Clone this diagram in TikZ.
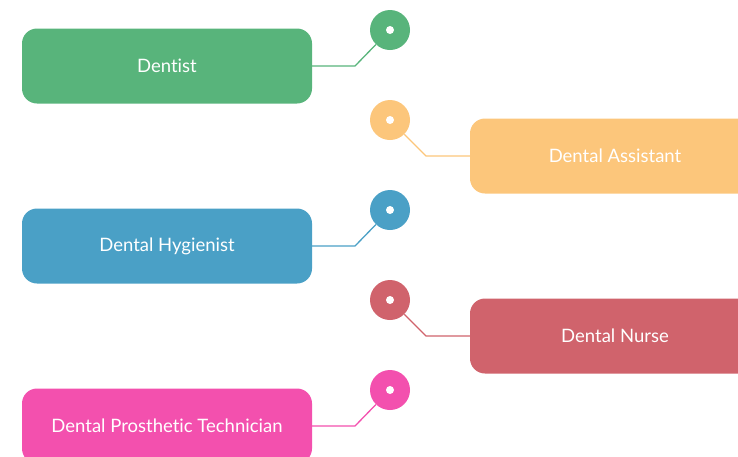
\documentclass[tikz,border=0pt]{standalone}
\usepackage{fontspec}
\setmainfont{Lato}[Ligatures=NoCommon]
\definecolor{dentistgreen}{HTML}{58B47B}
\definecolor{assistantorange}{HTML}{FCC67B}
\definecolor{hygienistblue}{HTML}{4AA0C6}
\definecolor{nursered}{HTML}{D0636C}
\definecolor{technicianpink}{HTML}{F350AE}

\newcommand\leftrole[4]{
        \node [rolebox, fill=#3, name=#1] at (167,#2+36) {#4};
        \node [roledot, fill=#3, name=#1dot] at (390,#2) {};
        \node [dothole] at (#1dot) {};
        \coordinate (#1bend) at (355,#2+36);
        \draw [roleline, #3] (#1.east) -- (#1bend) -- (#1dot);
}
\newcommand\rightrole[4]{
        \node [rolebox, fill=#3, name=#1] at (615,#2+36) {#4};
        \node [roledot, fill=#3, name=#1dot] at (390,#2) {};
        \node [dothole] at (#1dot) {};
        \coordinate (#1bend) at (426,#2+36);
        \draw [roleline, #3] (#1dot) -- (#1bend) -- (#1.west);
}

\begin{document}
\begin{tikzpicture}[x=1pt, y=-1pt,
        rolebox/.style={rounded corners=15pt, minimum width=290pt, minimum height=75pt,
          inner sep=0pt, text=white, font=\fontsize{18.5}{22}\selectfont},
        roledot/.style={circle, minimum size=40pt, inner sep=0pt},
        dothole/.style={circle, fill=white, minimum size=8pt, inner sep=0pt},
        roleline/.style={line width=1.3pt}
        ]
        \useasboundingbox (0,0) rectangle (738,456);
        \clip (0,0) rectangle (738,456);
        \leftrole{dentist}{30}{dentistgreen}{Dentist}
        \rightrole{assistant}{120}{assistantorange}{Dental Assistant}
        \leftrole{hygienist}{210}{hygienistblue}{Dental Hygienist}
        \rightrole{nurse}{300}{nursered}{Dental Nurse}
        \leftrole{technician}{390}{technicianpink}{Dental Prosthetic Technician}
      \end{tikzpicture}
\end{document}
